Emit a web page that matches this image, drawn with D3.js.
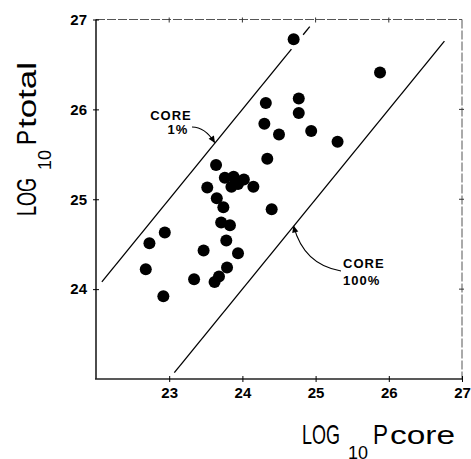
<!DOCTYPE html>
<html><head><meta charset="utf-8">
<script src="https://cdn.jsdelivr.net/npm/d3@7"></script>
<style>
html,body{margin:0;padding:0;background:#fff;}
svg{display:block;}
text{font-family:"Liberation Sans",Arial,Helvetica,sans-serif;fill:#000;}
</style></head><body>
<script>
// log10 of core power and of total power for each object
const coreLog  = [24.70,25.88,24.32,24.77,24.77,24.30,24.50,24.94,25.30,24.34,23.64,23.76,23.88,24.02,23.94,23.85,24.15,23.52,23.65,23.74,24.40,23.71,23.83,22.94,22.73,23.78,23.47,23.94,22.68,23.79,23.34,23.68,23.62,22.92];
const totalLog = [26.78,26.41,26.07,26.12,25.96,25.84,25.72,25.76,25.64,25.45,25.38,25.24,25.25,25.22,25.17,25.14,25.14,25.13,25.01,24.91,24.89,24.74,24.71,24.63,24.51,24.54,24.43,24.40,24.22,24.24,24.11,24.14,24.08,23.92];
const xTicks = [23,24,25,26,27];
const yTicks = [24,25,26,27];
// reference lines: total = core + offset (offset 2 -> core is 1% of total, 0 -> core is 100%)
const coreOnePct     = {offset:2, segments:[[22.08,24.67],[24.83,24.92]]};
const coreHundredPct = {offset:0, segments:[[23.07,26.76]]};

const W = 471, H = 459;
const svg = d3.select("body").append("svg").attr("width", W).attr("height", H);

const x = d3.scaleLinear().domain([22,27]).range([96,462]);
const y = d3.scaleLinear().domain([23,27]).range([379,19.5]);

const defs = svg.append("defs");
defs.append("marker").attr("id","arrow").attr("viewBox","0 0 10 10")
  .attr("refX",9).attr("refY",5).attr("markerWidth",9).attr("markerHeight",7)
  .attr("markerUnits","userSpaceOnUse").attr("orient","auto")
  .append("path").attr("d","M0,0.5 L10,5 L0,9.5 Z").attr("fill","#000");

// frame: left and bottom solid, top and right fainter
const [x0,x1] = x.range(), [y0,y1] = [y(23), y(27)];
svg.append("line").attr("x1",x1).attr("x2",x1).attr("y1",y1).attr("y2",y0)
  .attr("stroke","#555").attr("stroke-width",1).attr("stroke-dasharray","9 2");
svg.append("line").attr("x1",x0).attr("x2",x1).attr("y1",y1).attr("y2",y1)
  .attr("stroke","#555").attr("stroke-width",1).attr("stroke-dasharray","9 2");
svg.append("line").attr("x1",x0).attr("x2",x0).attr("y1",y1).attr("y2",y0)
  .attr("stroke","#000").attr("stroke-width",1.4);
svg.append("line").attr("x1",x0-1).attr("x2",x1).attr("y1",y0).attr("y2",y0)
  .attr("stroke","#222").attr("stroke-width",1.4);

// axes
const gx = svg.append("g").attr("transform",`translate(0,${y0})`)
  .call(d3.axisBottom(x).tickValues(xTicks).tickSize(3).tickPadding(5).tickFormat(d3.format("d")));
const gy = svg.append("g").attr("transform",`translate(${x0},0)`)
  .call(d3.axisLeft(y).tickValues(yTicks).tickSize(3).tickPadding(6).tickFormat(d3.format("d")));
[gx,gy].forEach(g=>{
  g.select(".domain").remove();
  g.selectAll(".tick line").attr("stroke","#000").attr("stroke-width",1);
  g.selectAll("text").attr("font-size",15).attr("font-weight","bold")
    .attr("font-family",'"Liberation Sans",Arial,sans-serif').attr("fill","#000");
});
gx.selectAll(".tick line").attr("y1",-3);
gy.selectAll(".tick line").attr("x1",3);
// ticks on top and right borders
svg.append("g").selectAll("line").data(xTicks.filter(d=>d<27)).join("line")
  .attr("x1",d=>x(d)).attr("x2",d=>x(d)).attr("y1",y1-2).attr("y2",y1+3).attr("stroke","#333");
svg.append("g").selectAll("line").data(yTicks.filter(d=>d<27)).join("line")
  .attr("x1",x1-3).attr("x2",x1+2).attr("y1",d=>y(d)).attr("y2",d=>y(d)).attr("stroke","#333");

// reference lines
[coreOnePct, coreHundredPct].forEach(l=>{
  l.segments.forEach(([a,b])=>{
    svg.append("line").attr("x1",x(a)).attr("y1",y(a+l.offset))
      .attr("x2",x(b)).attr("y2",y(b+l.offset))
      .attr("stroke","#000").attr("stroke-width",1.3);
  });
});

// points
svg.append("g").selectAll("circle").data(coreLog.map((c,i)=>[c,totalLog[i]])).join("circle")
  .attr("cx",d=>x(d[0])).attr("cy",d=>y(d[1])).attr("r",6).attr("fill","#000");

// line annotations
function label(lines, px, py, anchor){
  lines.forEach((s,i)=>svg.append("text").attr("font-size",13).attr("font-weight","bold")
    .attr("letter-spacing",1).attr("text-anchor",anchor)
    .attr("x",px[i]).attr("y",py[i]).text(s));
}
label(["CORE","1%"],[171,178],[120,134],"middle");
label(["CORE","100%"],[343,343],[268,285],"start");

const tip1 = [x(23.62), y(25.62)-1];
svg.append("path").attr("d",`M192,127 Q205,127 ${tip1[0]},${tip1[1]}`)
  .attr("fill","none").attr("stroke","#000").attr("stroke-width",1.1).attr("marker-end","url(#arrow)");
const tip2 = [x(24.70), y(24.70)];
svg.append("path").attr("d",`M341,271 Q304,265 ${tip2[0]},${tip2[1]}`)
  .attr("fill","none").attr("stroke","#000").attr("stroke-width",1.1).attr("marker-end","url(#arrow)");

// axis titles
function title(g, parts){
  parts.forEach(p=>{
    g.append("text").attr("x",p.s).attr("y",p.dy||0).attr("font-size",p.fs)
      .attr("textLength",p.w).attr("lengthAdjust","spacingAndGlyphs").text(p.t);
  });
}
const xt = svg.append("g").attr("transform","translate(302,444)");
title(xt,[{t:"LOG",s:0,w:38,fs:28},{t:"10",s:46,w:20,fs:18,dy:15},{t:"P",s:71,w:15,fs:28},{t:"core",s:88,w:65,fs:25}]);
const yt = svg.append("g").attr("transform","translate(36,216) rotate(-90)");
title(yt,[{t:"LOG",s:0,w:38,fs:28},{t:"10",s:46,w:20,fs:18,dy:15},{t:"P",s:71,w:15,fs:28},{t:"total",s:88,w:66,fs:25}]);
</script>
</body></html>
